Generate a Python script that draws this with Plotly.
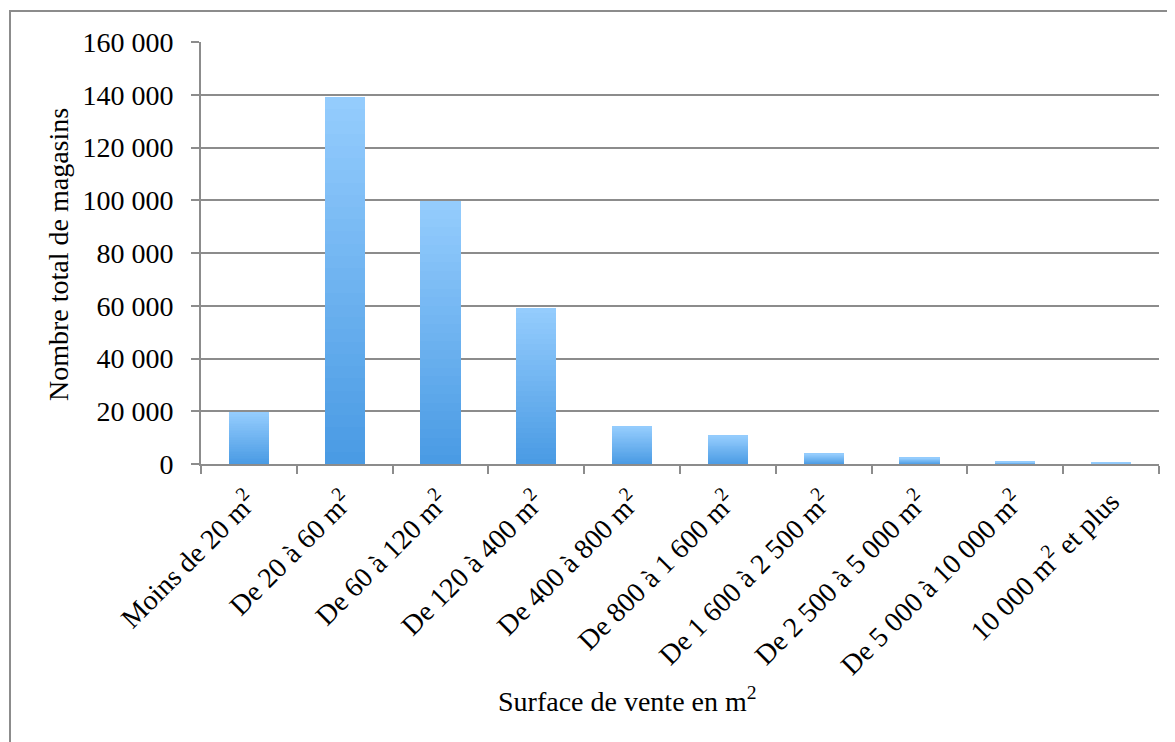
import plotly.graph_objects as go

# ---- data ----
categories = [
    "Moins de 20 m<sup>2</sup>",
    "De 20 à 60 m<sup>2</sup>",
    "De 60 à 120 m<sup>2</sup>",
    "De 120 à 400 m<sup>2</sup>",
    "De 400 à 800 m<sup>2</sup>",
    "De 800 à 1 600 m<sup>2</sup>",
    "De 1 600 à 2 500 m<sup>2</sup>",
    "De 2 500 à 5 000 m<sup>2</sup>",
    "De 5 000 à 10 000 m<sup>2</sup>",
    "10 000 m<sup>2</sup> et plus",
]
magasins = [19800, 139200, 99700, 59200, 14300, 10800, 3800, 2300, 800, 400]
y_tick_values = [0, 20000, 40000, 60000, 80000, 100000, 120000, 140000, 160000]
x_title = "Surface de vente en m<sup>2</sup>"
y_title = "Nombre total de magasins"

# ---- styling ----
FONT = "Liberation Serif"
FS = 28
GRID = "#8c8c8c"
TOP = (148, 204, 253)
BOTTOM = (74, 155, 228)
N_SEG = 30

OFF = 8  # page body margin
W, H = 1175 - OFF, 742 - OFF
L, T = 201 - OFF, 42 - OFF
R = W - (1159 - OFF)
B = H - (464 - OFF)
pw, ph = W - L - R, H - T - B


def px_x(x):
    return (x - OFF - L) / pw


def px_y(y):
    return (H - B - (y - OFF)) / ph


fig = go.Figure()
# vertical gradient in each bar: stack of thin slices of the same bar
for k in range(N_SEG):
    t = k / (N_SEG - 1)
    c = tuple(round(BOTTOM[i] + (TOP[i] - BOTTOM[i]) * t) for i in range(3))
    fig.add_trace(go.Bar(
        x=categories,
        y=[v / N_SEG for v in magasins],
        marker=dict(color=f"rgb{c}", line=dict(width=0)),
        showlegend=False,
        hoverinfo="skip",
    ))

fig.update_layout(
    width=W, height=H,
    margin=dict(l=L, r=R, t=T, b=B),
    barmode="stack",
    bargap=0.58,
    plot_bgcolor="white",
    paper_bgcolor="white",
    separators=", ",
    font=dict(family=FONT, size=FS, color="black"),
    showlegend=False,
)
fig.update_xaxes(
    type="category",
    tickangle=-45,
    showgrid=False,
    showline=True, linecolor=GRID, linewidth=2,
    ticks="outside", ticklen=8, tickwidth=2, tickcolor=GRID,
    tickson="boundaries",
    ticklabelstandoff=8,
    tickfont=dict(family=FONT, size=FS, color="black"),
)
fig.update_yaxes(
    range=[0, 160000],
    tickvals=y_tick_values,
    tickformat=",d",
    showgrid=True, gridcolor=GRID, gridwidth=2,
    showline=True, linecolor=GRID, linewidth=2,
    ticks="outside", ticklen=8, tickwidth=2, tickcolor=GRID,
    ticklabelstandoff=12,
    zeroline=False,
    tickfont=dict(family=FONT, size=FS, color="black"),
)

# axis titles
fig.add_annotation(
    text=y_title, xref="paper", yref="paper",
    x=px_x(59), y=px_y(255),
    xanchor="center", yanchor="middle", textangle=-90,
    showarrow=False, font=dict(family=FONT, size=FS, color="black"),
)
fig.add_annotation(
    text=x_title, xref="paper", yref="paper",
    x=px_x(627), y=px_y(699),
    xanchor="center", yanchor="middle",
    showarrow=False, font=dict(family=FONT, size=FS, color="black"),
)

# outer chart frame
fig.add_shape(
    type="rect", xref="paper", yref="paper",
    x0=px_x(10), x1=px_x(1200),
    y0=px_y(770), y1=px_y(11),
    line=dict(color=GRID, width=2), fillcolor="rgba(0,0,0,0)", layer="below",
)

fig.write_html("out.html")
